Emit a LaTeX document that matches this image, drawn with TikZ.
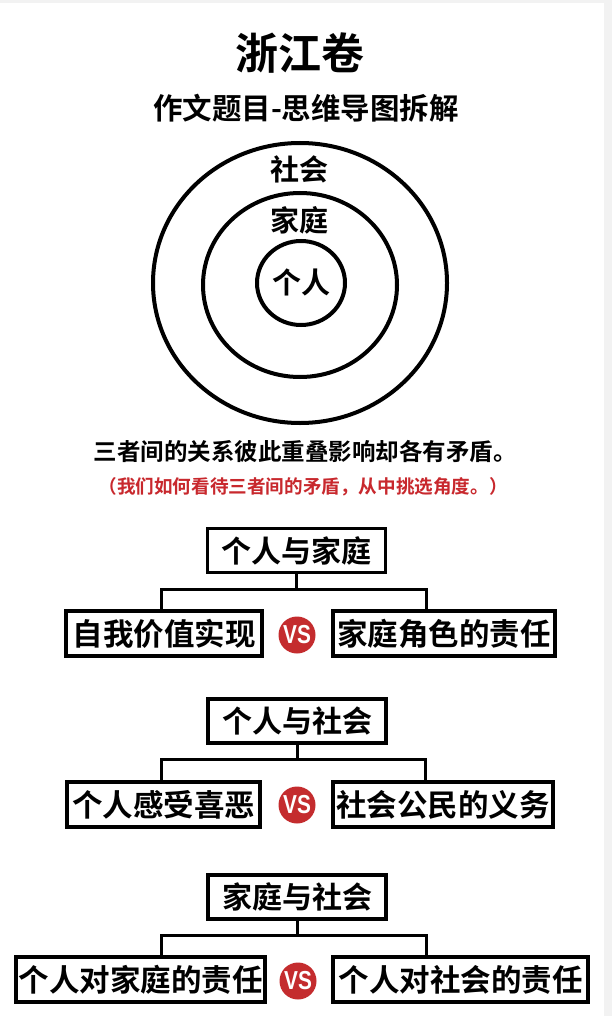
\documentclass[tikz,border=0pt]{standalone}
\usepackage{fontspec}
\newfontfamily\cjkb{Noto Sans CJK SC Bold}
\newfontfamily\vsfont{Liberation Sans}
\definecolor{redtxt}{RGB}{200,40,45}
\definecolor{vsred}{RGB}{196,44,46}
\definecolor{edgegrey}{RGB}{242,242,242}
\tikzset{
  lbl/.style={font=\cjkb\fontsize{30}{30}\selectfont, inner sep=0pt},
  topbox/.style={draw, line width=3.6pt, font=\cjkb\fontsize{30}{30}\selectfont, inner sep=0pt, minimum width=178pt, minimum height=44pt},
  subbox/.style={draw, line width=3.6pt, font=\cjkb\fontsize{30.5}{30.5}\selectfont, inner sep=0pt, minimum height=45pt},
  vsdot/.style={circle, fill=vsred, minimum size=37pt, inner sep=0pt, text=white, font=\vsfont\bfseries\fontsize{26}{26}\selectfont},
  conn/.style={line width=3pt},
  ring/.style={line width=4pt}
}
\begin{document}
\begin{tikzpicture}[x=1pt,y=-1pt]
\useasboundingbox (0,0) rectangle (612,1016);
\fill[white] (0,0) rectangle (612,1016);
\fill[edgegrey] (604,0) rectangle (612,1016);
\fill[edgegrey] (0,0) rectangle (604,3);

% titles
\node[font=\cjkb\fontsize{43}{43}\selectfont, inner sep=0pt] (title) at (300,53) {浙江卷};
\node[font=\cjkb\fontsize{29.5}{29.5}\selectfont, inner sep=0pt] (subtitle) at (306,108) {作文题目-思维导图拆解};

% rings
\draw[ring] (300,283) ellipse [x radius=147pt, y radius=140pt];
\draw[ring] (300,285) ellipse [x radius=97pt, y radius=92pt];
\draw[ring] (301,283) ellipse [x radius=44pt, y radius=42pt];
\node[lbl, font=\cjkb\fontsize{29}{29}\selectfont] (she) at (299,169) {社会};
\node[lbl, font=\cjkb\fontsize{29}{29}\selectfont] (jia) at (299,220) {家庭};
\node[lbl, font=\cjkb\fontsize{29}{29}\selectfont] (ge) at (301,282) {个人};

% sentences
\node[font=\cjkb\fontsize{23.5}{23.5}\selectfont, inner sep=0pt] (s1) at (305,452) {三者间的关系彼此重叠影响却各有矛盾。};
\node[font=\cjkb\fontsize{18.6}{18.6}\selectfont, text=redtxt, inner sep=0pt] (s2) at (303,487) {（我们如何看待三者间的矛盾，从中挑选角度。）};

% group 1
\node[topbox] (t1) at (296.5,550.5) {个人与家庭};
\node[subbox, minimum width=196pt] (l1) at (164,633.5) {自我价值实现};
\node[subbox, minimum width=222pt] (r1) at (444,633.5) {家庭角色的责任};
\node[vsdot] (v1) at (297,635) {\scalebox{0.8}[1]{VS}};
\coordinate (h1) at (296.5,589);
\coordinate (h1l) at (161,589);
\coordinate (h1r) at (426,589);
\draw[conn] (t1.south) -- (h1);
\draw[conn] (h1l |- l1.north) -- (h1l) -- (h1r) -- (h1r |- r1.north);

% group 2
\node[topbox] (t2) at (297,721) {个人与社会};
\node[subbox, minimum width=193pt] (l2) at (163.5,804.5) {个人感受喜恶};
\node[subbox, minimum width=220pt] (r2) at (443,804.5) {社会公民的义务};
\node[vsdot] (v2) at (297,805) {\scalebox{0.8}[1]{VS}};
\coordinate (h2) at (297,759);
\coordinate (h2l) at (161,759);
\coordinate (h2r) at (425,759);
\draw[conn] (t2.south) -- (h2);
\draw[conn] (h2l |- l2.north) -- (h2l) -- (h2r) -- (h2r |- r2.north);

% group 3
\node[topbox] (t3) at (297,897) {家庭与社会};
\node[subbox, minimum width=249pt] (l3) at (140.5,979.5) {个人对家庭的责任};
\node[subbox, minimum width=255pt] (r3) at (460.5,979.5) {个人对社会的责任};
\node[vsdot] (v3) at (298,981) {\scalebox{0.8}[1]{VS}};
\coordinate (h3) at (297,935);
\coordinate (h3l) at (161,935);
\coordinate (h3r) at (426,935);
\draw[conn] (t3.south) -- (h3);
\draw[conn] (h3l |- l3.north) -- (h3l) -- (h3r) -- (h3r |- r3.north);
\end{tikzpicture}
\end{document}
